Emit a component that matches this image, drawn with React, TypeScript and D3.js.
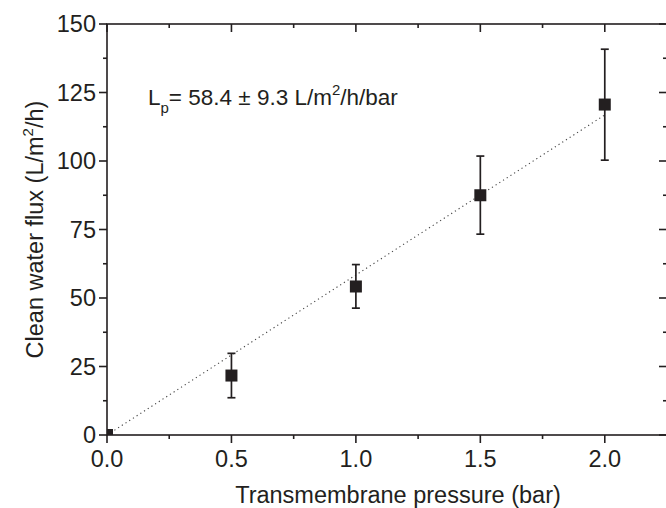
import { useEffect, useRef } from 'react'
import * as d3 from 'd3'

const pressure = [0, 0.5, 1.0, 1.5, 2.0]
const flux = [0, 21.7, 54.2, 87.5, 120.6]
const fluxLow = [0, 13.6, 46.3, 73.3, 100.3]
const fluxHigh = [0, 29.8, 62.2, 101.8, 140.8]
const xTicks = [0, 0.5, 1.0, 1.5, 2.0]
const yTicks = [0, 25, 50, 75, 100, 125, 150]
const fitSlope = 58.4
const fitRange = [0, 2.0]

export default function App() {
  const ref = useRef<SVGSVGElement>(null)

  useEffect(() => {
    const svg = d3.select(ref.current)
    svg.selectAll('*').remove()

    const W = 666, H = 508
    const margin = { top: 24, right: -1, bottom: 73, left: 107 }
    const left = margin.left, right = W - margin.right
    const top = margin.top, bottom = H - margin.bottom
    const ink = '#231f20'
    const font = '"Liberation Sans", Arial, Helvetica, sans-serif'

    const x = d3.scaleLinear().domain([0, 2.25]).range([left, right])
    const y = d3.scaleLinear().domain([0, 150]).range([bottom, top])

    svg.append('rect').attr('width', W).attr('height', H).attr('fill', '#fff')

    svg.append('defs').append('clipPath').attr('id', 'plot-clip')
      .append('rect')
      .attr('x', left).attr('y', top)
      .attr('width', right - left).attr('height', bottom - top)

    // fit line
    svg.append('line')
      .attr('x1', x(fitRange[0])).attr('y1', y(fitSlope * fitRange[0]))
      .attr('x2', x(fitRange[1])).attr('y2', y(fitSlope * fitRange[1]))
      .attr('stroke', '#444').attr('stroke-width', 1.1)
      .attr('stroke-dasharray', '1.2,3.2')

    // error bars
    const eb = svg.append('g').attr('stroke', ink).attr('stroke-width', 1.7)
    pressure.forEach((p, i) => {
      if (fluxHigh[i] === fluxLow[i]) return
      eb.append('line').attr('x1', x(p)).attr('x2', x(p))
        .attr('y1', y(fluxLow[i])).attr('y2', y(fluxHigh[i]))
      ;[fluxLow[i], fluxHigh[i]].forEach(v => {
        eb.append('line').attr('x1', x(p) - 4).attr('x2', x(p) + 4)
          .attr('y1', y(v)).attr('y2', y(v))
      })
    })

    // markers
    svg.append('g').attr('clip-path', 'url(#plot-clip)')
      .selectAll('rect')
      .data(pressure)
      .enter().append('rect')
      .attr('x', (d) => x(d) - 6)
      .attr('y', (d, i) => y(flux[i]) - 6)
      .attr('width', 12).attr('height', 12)
      .attr('fill', ink)

    // frame
    const axis = svg.append('g').attr('stroke', ink).attr('stroke-width', 1.6).attr('fill', 'none')
    axis.append('rect').attr('x', left).attr('y', top)
      .attr('width', right - left).attr('height', bottom - top)

    const xMinor = d3.range(0.25, 2.25, 0.5)
    const yMinor = d3.range(12.5, 150, 25)

    xTicks.forEach(t => {
      axis.append('line').attr('x1', x(t)).attr('x2', x(t)).attr('y1', bottom).attr('y2', bottom + 8)
      axis.append('line').attr('x1', x(t)).attr('x2', x(t)).attr('y1', top).attr('y2', top + 8)
    })
    xMinor.forEach(t => {
      axis.append('line').attr('x1', x(t)).attr('x2', x(t)).attr('y1', bottom).attr('y2', bottom + 4)
      axis.append('line').attr('x1', x(t)).attr('x2', x(t)).attr('y1', top).attr('y2', top + 4)
    })
    yTicks.forEach(t => {
      axis.append('line').attr('x1', left - 8).attr('x2', left).attr('y1', y(t)).attr('y2', y(t))
      axis.append('line').attr('x1', right - 8).attr('x2', right).attr('y1', y(t)).attr('y2', y(t))
    })
    yMinor.forEach(t => {
      axis.append('line').attr('x1', left - 4).attr('x2', left).attr('y1', y(t)).attr('y2', y(t))
      axis.append('line').attr('x1', right - 4).attr('x2', right).attr('y1', y(t)).attr('y2', y(t))
    })

    const txt = svg.append('g').attr('fill', ink).style('font-family', font).style('font-size', '23.5px')

    txt.selectAll('.xl').data(xTicks).enter().append('text')
      .attr('x', d => x(d)).attr('y', bottom + 32)
      .attr('text-anchor', 'middle')
      .text(d => d3.format('.1f')(d))

    txt.selectAll('.yl').data(yTicks).enter().append('text')
      .attr('x', left - 11).attr('y', d => y(d) + 8)
      .attr('text-anchor', 'end')
      .text(d => String(d))

    txt.append('text')
      .attr('x', 398).attr('y', 503)
      .attr('text-anchor', 'middle')
      .text('Transmembrane pressure (bar)')

    const yt = txt.append('text')
      .attr('transform', `translate(43,${(top + bottom) / 2}) rotate(-90)`)
      .attr('text-anchor', 'middle')
    yt.append('tspan').text('Clean water flux (L/m')
    yt.append('tspan').attr('dy', -10).style('font-size', '15px').text('2')
    yt.append('tspan').attr('dy', 10).text('/h)')

    const ann = txt.append('text').attr('x', 148).attr('y', 105).style('font-size', '22.5px')
    ann.append('tspan').text('L')
    ann.append('tspan').attr('dy', 8).style('font-size', '15px').text('p')
    ann.append('tspan').attr('dy', -8).text('= 58.4 ± 9.3 L/m')
    ann.append('tspan').attr('dy', -10).style('font-size', '15px').text('2')
    ann.append('tspan').attr('dy', 10).text('/h/bar')
  }, [])

  return (
    <svg ref={ref} width={666} height={508}
      style={{ position: 'absolute', left: 0, top: 0, display: 'block' }} />
  )
}
